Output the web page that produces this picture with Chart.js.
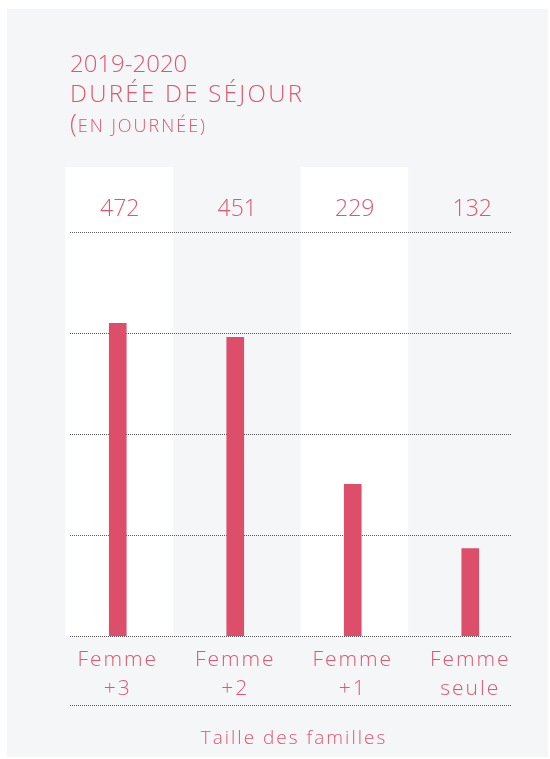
<!DOCTYPE html>
<html>
<head>
<meta charset="utf-8">
<script src="https://cdn.jsdelivr.net/npm/chart.js@4/dist/chart.umd.min.js"></script>
<style>
  html, body { margin: 0; padding: 0; background: #ffffff; }
  canvas { display: block; }
</style>
</head>
<body>
<canvas id="c" width="550" height="759"></canvas>
<script>
const categories = [['Femme', '+3'], ['Femme', '+2'], ['Femme', '+1'], ['Femme', 'seule']];
const values = [472, 451, 229, 132];
const titleLines = ['2019-2020', 'DURÉE DE SÉJOUR'];
const subtitleText = 'EN JOURNÉE)';
const axisTitle = 'Taille des familles';

const PINK = '#de566f';
const BAR = '#dc4e69';
const PANEL = '#f5f6f8';
const FONT = '"Open Sans", "Noto Sans", sans-serif';

const decor = {
  id: 'decor',
  beforeDraw(chart) {
    const ctx = chart.ctx;
    const x = chart.scales.x;
    const area = chart.chartArea;
    ctx.save();
    ctx.fillStyle = '#ffffff';
    ctx.fillRect(0, 0, chart.width, chart.height);
    ctx.fillStyle = PANEL;
    ctx.fillRect(7, 9, 541, 748);
    ctx.fillStyle = '#ffffff';
    [0, 2].forEach(i => {
      const cx = x.getPixelForValue(i) + 1.5;
      ctx.fillRect(cx - 54, 167, 108, area.bottom - 167);
    });
    ctx.restore();
    // letter spacing for the axis labels drawn by the library
    ctx.letterSpacing = '2px';
  },
  beforeDatasetsDraw(chart) {
    const ctx = chart.ctx;
    const y = chart.scales.y;
    ctx.save();
    ctx.strokeStyle = '#555';
    ctx.lineWidth = 1;
    ctx.setLineDash([1, 1]);
    y.ticks.forEach(t => {
      const py = Math.round(y.getPixelForValue(t.value)) + 0.5;
      ctx.beginPath();
      ctx.moveTo(70, py);
      ctx.lineTo(512, py);
      ctx.stroke();
    });
    ctx.beginPath();
    ctx.moveTo(70, 705.5);
    ctx.lineTo(512, 705.5);
    ctx.stroke();
    ctx.restore();
  },
  afterDraw(chart) {
    const ctx = chart.ctx;
    const x = chart.scales.x;
    ctx.save();
    ctx.fillStyle = PINK;
    ctx.textBaseline = 'middle';
    ctx.textAlign = 'center';
    ctx.letterSpacing = '0px';
    ctx.font = '300 23px ' + FONT;
    values.forEach((v, i) => {
      ctx.fillText(String(v), x.getPixelForValue(i) + 2, 209);
    });
    ctx.textAlign = 'left';
    ctx.font = '300 24px ' + FONT;
    ctx.letterSpacing = '0px';
    ctx.fillText(titleLines[0], 70, 65);
    ctx.letterSpacing = '2.3px';
    ctx.fillText(titleLines[1], 70, 95);
    ctx.letterSpacing = '0px';
    ctx.font = '300 25px ' + FONT;
    ctx.fillText('(', 70, 125);
    const w = ctx.measureText('(').width;
    ctx.font = '300 18px ' + FONT;
    ctx.letterSpacing = '2px';
    ctx.fillText(subtitleText, 70 + w + 1, 127);
    ctx.restore();
  }
};

new Chart(document.getElementById('c'), {
  type: 'bar',
  data: {
    labels: categories,
    datasets: [{
      data: values,
      backgroundColor: BAR,
      borderWidth: 0,
      barThickness: 17
    }]
  },
  options: {
    responsive: false,
    animation: false,
    devicePixelRatio: 1,
    layout: { padding: { left: 59, right: 21, top: 232, bottom: 0 } },
    plugins: { legend: { display: false }, tooltip: { enabled: false } },
    scales: {
      x: {
        grid: { display: false, drawTicks: false },
        border: { display: false },
        ticks: {
          color: PINK,
          font: { family: FONT, size: 21, weight: '300', lineHeight: 1.38 },
          padding: 10,
          maxRotation: 0,
          autoSkip: false
        },
        title: {
          display: true,
          text: axisTitle,
          color: PINK,
          font: { family: FONT, size: 19, weight: '300', lineHeight: 1.2 },
          padding: { top: 0, bottom: 9 }
        },
        afterFit(scale) { scale.height = 123; }
      },
      y: {
        min: 0,
        max: 610,
        ticks: { display: false, stepSize: 152.5 },
        grid: { display: false, drawTicks: false },
        border: { display: false },
        afterFit(scale) { scale.width = 0; }
      }
    }
  },
  plugins: [decor]
});
</script>
</body>
</html>
